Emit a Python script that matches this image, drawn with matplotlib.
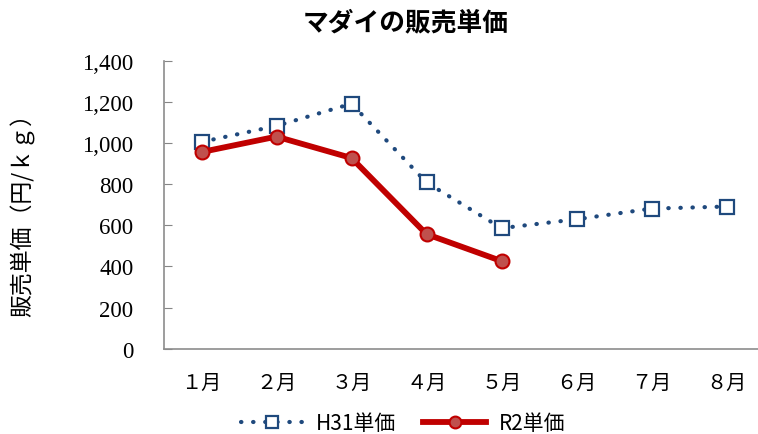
import matplotlib
matplotlib.use("Agg")
import matplotlib.pyplot as plt

months = ["１月", "２月", "３月", "４月", "５月", "６月", "７月", "８月"]
h31_price = [1005, 1083, 1191, 808, 586, 629, 681, 691]
r2_price = [956, 1031, 927, 557, 426]
y_ticks = [0, 200, 400, 600, 800, 1000, 1200, 1400]

jp = ["Noto Sans CJK JP", "DejaVu Sans"]
serif = ["Liberation Serif", "Noto Sans CJK JP"]

fig = plt.figure(figsize=(7.58, 4.35), dpi=100)
W, H = 758, 435
ax = fig.add_axes([164 / W, (H - 349.7) / H, 600 / W, 288 / H])

x = list(range(len(months)))
ax.plot(x, h31_price, color="#1F497D", linestyle=(0, (0.1, 2.8)), linewidth=3.0,
        dash_capstyle="round", marker="s", markersize=10, markerfacecolor="white",
        markeredgecolor="#1F497D", markeredgewidth=1.6, label="H31単価", zorder=3)
ax.plot(x[:len(r2_price)], r2_price, color="#C00000", linewidth=4.2,
        marker="o", markersize=10, markerfacecolor="#C0504D",
        markeredgecolor="#C00000", markeredgewidth=1.5, label="R2単価", zorder=4)

ax.set_xlim(-0.5, len(months) - 0.5)
ax.set_ylim(0, 1400)
ax.set_yticks(y_ticks)
ax.set_yticklabels([f"{v:,}" for v in y_ticks], family=serif, fontsize=16.5)
ax.set_xticks(x)
ax.set_xticklabels(months, family=jp, fontsize=14.5)

ax.tick_params(axis="y", direction="in", length=6, color="#868686", pad=22)
ax.tick_params(axis="x", length=0, pad=17)
for side in ["top", "right"]:
    ax.spines[side].set_visible(False)
for side in ["left", "bottom"]:
    ax.spines[side].set_color("#8C8C8C")
    ax.spines[side].set_linewidth(1.2)

fig.text(23 / W, 1 - 210 / H, "販売単価（円/ｋｇ）", rotation=90, ha="center",
         va="center", family=jp, fontsize=16.5)
fig.text(406 / W, 1 - 23 / H, "マダイの販売単価", ha="center", va="center",
         family=jp, fontsize=18.5, fontweight="bold")

leg = fig.legend(loc="center", bbox_to_anchor=(403 / W, 1 - 424 / H), ncol=2,
                 frameon=False, prop={"family": jp, "size": 15},
                 handlelength=3.0, columnspacing=1.3, handletextpad=0.6,
                 markerscale=0.85)

fig.savefig("out.png", dpi=100)
